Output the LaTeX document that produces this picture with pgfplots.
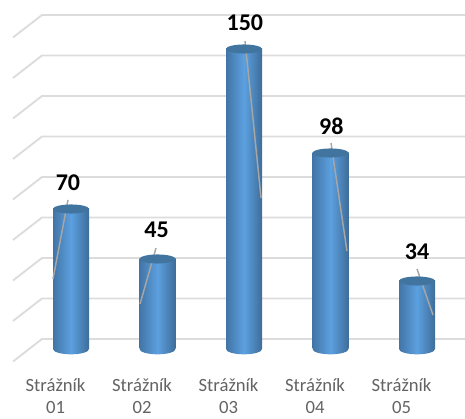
\documentclass[border=0pt]{standalone}
\usepackage{pgfplots}
\pgfplotsset{compat=1.18}
\usepackage{fontspec}
\setmainfont{Carlito}
\definecolor{barE}{HTML}{4275A6}
\definecolor{barER}{HTML}{3E6D99}
\definecolor{barM}{HTML}{5CA0E0}
\definecolor{capC}{HTML}{41759F}
\definecolor{gridC}{HTML}{DCDCDC}
\definecolor{labC}{HTML}{636363}
\definecolor{leadC}{HTML}{A6A6A6}
\pgfdeclareplotmark{captop}{\fill[capC,draw=none,yslant=0.13] (0pt,0pt) ellipse [x radius=13.5pt,y radius=3.4pt];}
\pgfdeclareplotmark{capbot}{\shade[draw=none,yslant=0.13,left color=barE,right color=barER,middle color=barM] (-13.5pt,0pt) arc[start angle=180,end angle=360,x radius=13.5pt,y radius=4pt] -- cycle;}
\pgfplotsset{cyl/.style={ybar,bar width=27pt,bar shift=0pt,draw=none,shade,left color=barE,right color=barER,middle color=barM}}
\begin{document}
\begin{tikzpicture}
\begin{axis}[
  scale only axis, width=348.75pt, height=311.25pt,
  xmin=-0.8208, xmax=4.5549, ymin=-33, ymax=174.5,
  axis line style={draw=none}, tick style={draw=none},
  xtick={0,1,2,3,4},
  xticklabels={Strážník\\01,Strážník\\02,Strážník\\03,Strážník\\04,Strážník\\05},
  xticklabel style={align=center,font=\fontsize{14}{16.7}\selectfont,text=labC,yshift=31pt,xshift=-11.6pt},
  ytick=\empty,
  unbounded coords=jump,
]
\addplot[gridC,line width=1.4pt,forget plot] coordinates {
(-0.6705,-6.25)(-0.3353,5)(4.5549,5)(0,nan)
(-0.6705,14)(-0.3353,25.25)(4.5549,25.25)(0,nan)
(-0.6705,34.25)(-0.3353,45.5)(4.5549,45.5)(0,nan)
(-0.6705,54.5)(-0.3353,65.75)(4.5549,65.75)(0,nan)
(-0.6705,74.75)(-0.3353,86)(4.5549,86)(0,nan)
(-0.6705,95)(-0.3353,106.25)(4.5549,106.25)(0,nan)
(-0.6705,115.25)(-0.3353,126.5)(4.5549,126.5)(0,nan)
(-0.6705,135.5)(-0.3353,146.75)(4.5549,146.75)(0,nan)
(-0.6705,155.75)(-0.3353,167)(4.5549,167)
};
\addplot[cyl] coordinates {(0,70)};
\addplot[cyl] coordinates {(1,45)};
\addplot[cyl] coordinates {(2,150)};
\addplot[cyl] coordinates {(3,98)};
\addplot[cyl] coordinates {(4,34)};
\addplot[only marks,mark=capbot] coordinates {(0,0)(1,0)(2,0)(3,0)(4,0)};
\addplot[only marks,mark=captop] coordinates {(0,70)(1,45)(2,150)(3,98)(4,34)};
\addplot[leadC,line width=1.1pt] coordinates {
(-0.035,74.5)(-0.208,35)(0,nan)
(0.983,50.5)(0.798,22.5)(0,nan)
(2.012,154)(2.197,75.5)(0,nan)
(3.006,103)(3.19,49)(0,nan)
(4,40)(4.185,17)
};
\addplot[only marks,mark=none,draw=none,point meta=explicit symbolic,
  nodes near coords,
  nodes near coords style={anchor=center,text=black,font=\fontsize{18}{20}\selectfont\bfseries}]
 coordinates {(-0.035,83)[70](0.99,59.5)[45](2.01,163)[150](3.01,111.5)[98](4,48.5)[34]};
\end{axis}
\end{tikzpicture}
\end{document}
